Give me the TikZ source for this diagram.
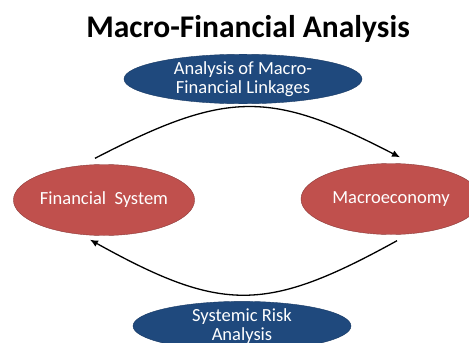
\documentclass[tikz,border=0pt]{standalone}
\usepackage{fontspec}
\setmainfont{Carlito}
\usetikzlibrary{arrows.meta,shapes.geometric}
\definecolor{linkblue}{HTML}{1F497D}
\definecolor{sysred}{HTML}{C0504D}
\definecolor{sysredline}{HTML}{8C3A38}
\tikzset{
  bluebox/.style={ellipse,fill=linkblue,draw=linkblue!80!black,text=white,align=center,
    minimum width=238pt,minimum height=46pt,inner sep=0pt,font=\fontsize{18.5}{19}\selectfont},
  redbox/.style={ellipse,fill=sysred,draw=sysredline,text=white,
    minimum width=180pt,minimum height=71pt,inner sep=0pt,font=\fontsize{18.5}{19}\selectfont},
  link/.style={line width=1.3pt,-{Latex[length=8pt,width=7pt]}}
}
\begin{document}
\begin{tikzpicture}[x=1pt,y=-1pt]
        \useasboundingbox (0,0) rectangle (469,343);
        \node[font=\fontsize{31.5}{36}\selectfont\bfseries] (title) at (248,29) {Macro-Financial Analysis};
        \node[bluebox] (mfl) at (243,79) {Analysis of Macro-\\Financial Linkages};
        \node[redbox] (fs) at (104,200) {Financial~~System};
        \node[redbox] (me) at (391,199) {Macroeconomy};
        \node[bluebox,minimum width=218pt] (sra) at (242,326) {Systemic Risk\\Analysis};
        \draw[link] ([shift={(-9,-6)}]fs.north) .. controls (227,90) and (270,90) .. ([shift={(9,-6)}]me.north);
        \draw[link] ([shift={(6,6)}]me.south) .. controls (266,313) and (222,313) .. ([shift={(-14,4)}]fs.south);
      \end{tikzpicture}
\end{document}
